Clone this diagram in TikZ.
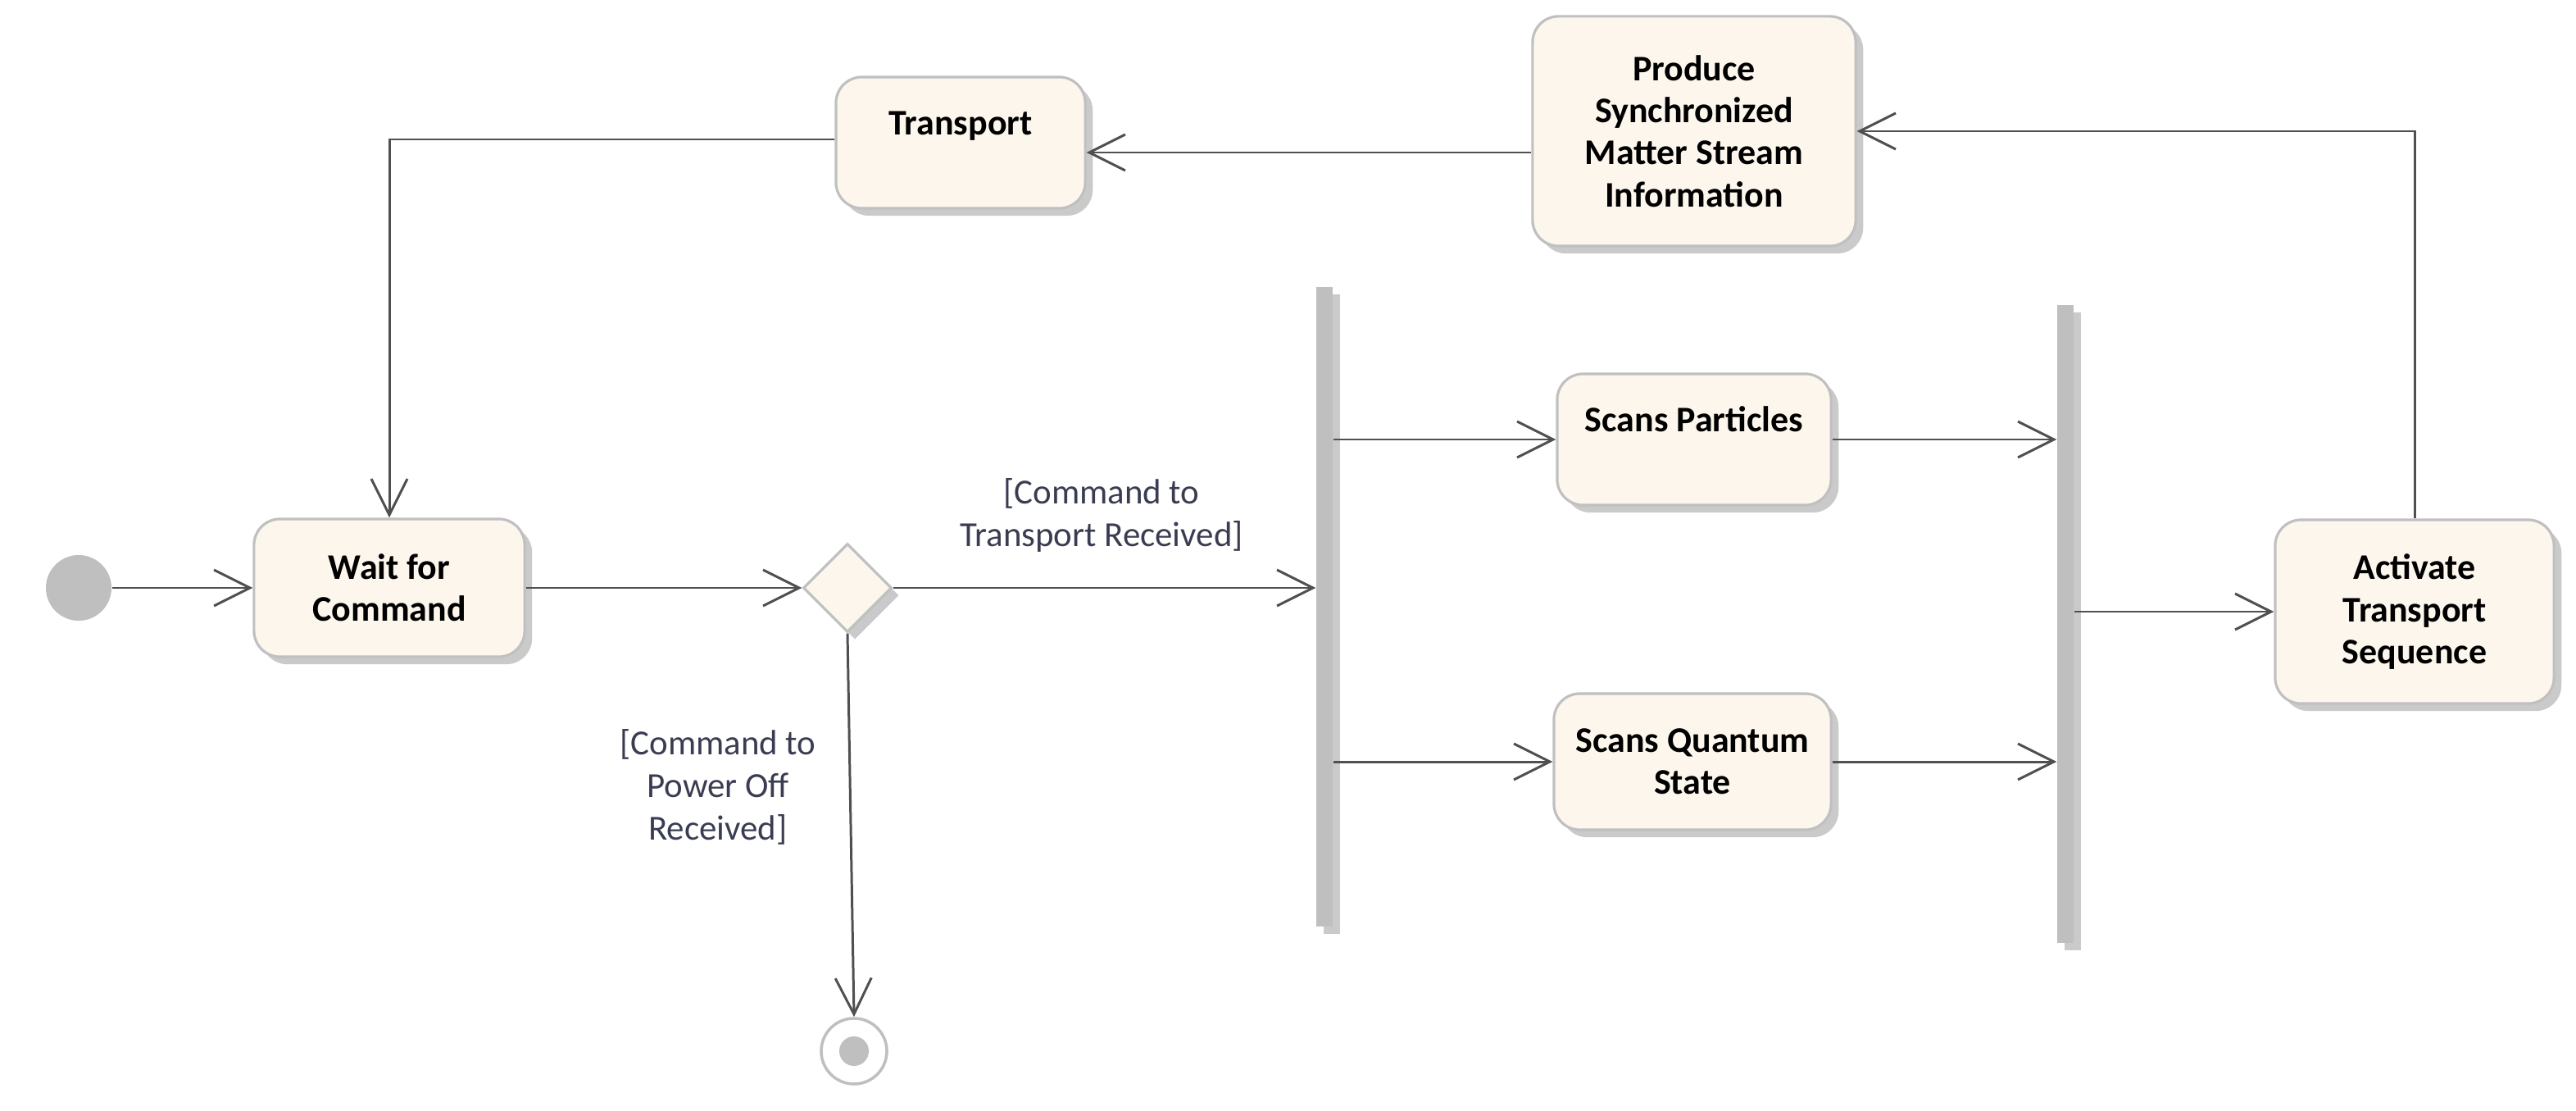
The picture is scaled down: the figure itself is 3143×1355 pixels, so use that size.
\documentclass[tikz,border=0pt]{standalone}
\usepackage{fontspec}
\setmainfont{Carlito}
\usetikzlibrary{arrows.meta,positioning,shapes.geometric,shadows,calc}
\usepackage{xcolor}
\definecolor{act_fill}{RGB}{252,246,237}
\definecolor{act_border}{RGB}{192,192,192}
\definecolor{flow_gray}{RGB}{80,80,80}
\definecolor{guard_ink}{RGB}{58,60,82}
\tikzset{
  shade_box/.style  = {drop shadow={shadow xshift=2.6pt, shadow yshift=-2.6pt, fill=gray!75, opacity=.55}},
  action/.style     = {rectangle, rounded corners=9pt, draw=act_border, line width=0.9pt, fill=act_fill,
                       shade_box, align=center, inner sep=2pt,
                       font=\fontsize{12.5}{14.6}\selectfont\bfseries},
  toptext/.style    = {text height=8.5pt, text depth=14pt},
  decision/.style   = {diamond, aspect=1, minimum size=1.08cm, inner sep=0pt, draw=act_border,
                       line width=0.9pt, fill=act_fill, shade_box},
  syncbar/.style    = {rectangle, fill=gray!50, minimum width=0.2cm, inner sep=0pt, shade_box},
  startnode/.style  = {circle, fill=gray!50, minimum size=0.8cm, inner sep=0pt},
  endnode/.style    = {circle, draw=gray!50, line width=1pt, fill=white, minimum size=0.8cm, inner sep=0pt},
  enddot/.style     = {circle, fill=gray!50, minimum size=0.36cm, inner sep=0pt},
  flow/.style       = {draw=flow_gray, line width=0.85pt, -{Straight Barb[length=12.5pt,width=12.5pt]}},
  guard/.style      = {align=center, text=guard_ink, font=\fontsize{12.2}{14.8}\selectfont}
}
\begin{document}
\begin{tikzpicture}[x=0.01cm, y=-0.01cm]
    \useasboundingbox (0,0) rectangle (3143,1355);

    % ----- Start and wait -----
    \node[startnode] (start) at (96,717) {};
    \node[action, minimum width=3.3cm, minimum height=1.68cm] (wait) at (475,717) {Wait for\\Command};
    \node[decision] (choice) at (1034,717) {};

    % ----- Fork and parallel scans -----
    \node[syncbar, minimum height=7.8cm] (fork) at (1616,740) {};
    \node[action, toptext, minimum width=3.34cm, minimum height=1.6cm] (particles) at (2067,536) {Scans Particles};
    \node[action, minimum width=3.38cm, minimum height=1.66cm] (quantum) at (2065,929) {Scans Quantum\\State};
    \node[syncbar, minimum height=7.78cm] (join) at (2520,761) {};

    % ----- Transport sequence -----
    \node[action, minimum width=3.4cm, minimum height=2.24cm] (activate) at (2946,746) {Activate\\Transport\\Sequence};
    \node[action, minimum width=3.94cm, minimum height=2.8cm] (produce) at (2067,160) {Produce\\Synchronized\\Matter Stream\\Information};
    \node[action, toptext, minimum width=3.04cm, minimum height=1.6cm] (transport) at (1172,174) {Transport};

    % ----- End -----
    \node[endnode] (final) at (1042,1282) {};
    \node[enddot] (finaldot) at (final) {};

    % Guards
    \node[guard] (g_transport) at (1344,628) {[Command to\\Transport Received]};
    \node[guard] (g_poweroff) at (876,960) {[Command to\\Power Off\\Received]};

    % Connections
    \draw[flow] (start) -- (wait);
    \draw[flow] (wait) -- (choice);
    \draw[flow] (choice.east) -- (choice.east -| fork.west);
    \draw[flow] (choice.south) -- (final.north);
    \draw[flow] (fork.east |- particles.west) -- (particles.west);
    \draw[flow] (fork.east |- quantum.west) -- (quantum.west);
    \draw[flow] (particles.east) -- (particles.east -| join.west);
    \draw[flow] (quantum.east) -- (quantum.east -| join.west);
    \draw[flow] (join.east |- activate.west) -- (activate.west);
    \draw[flow] (activate.north) |- (produce.east);
    \draw[flow] ($(produce.west |- transport.east)+(0,12)$) -- ($(transport.east)+(0,12)$);
    \draw[flow] ($(transport.west)+(0,-4)$) -| (wait.north);
\end{tikzpicture}
\end{document}
